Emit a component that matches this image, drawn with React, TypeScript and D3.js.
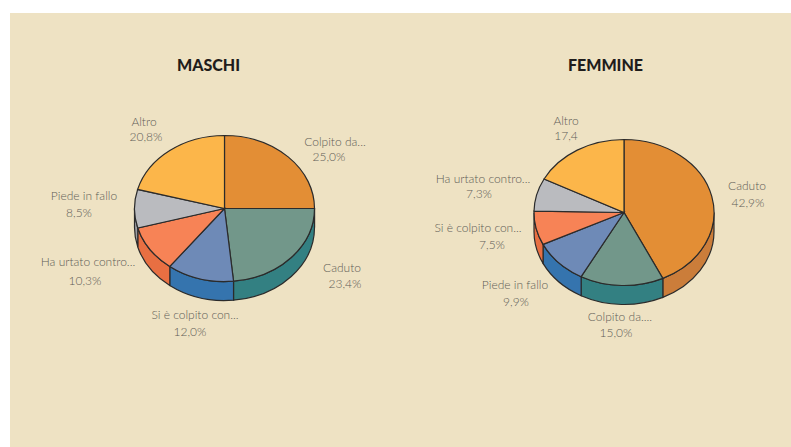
import * as d3 from "d3";

const width = 791;
const height = 447;

const maschiLabels = ["Colpito da...", "Caduto", "Si è colpito con...", "Ha urtato contro...", "Piede in fallo", "Altro"];
const maschiValues = [25.0, 23.4, 12.0, 10.3, 8.5, 20.8];
const maschiTexts = ["25,0%", "23,4%", "12,0%", "10,3%", "8,5%", "20,8%"];

const femmineLabels = ["Caduto", "Colpito da....", "Piede in fallo", "Si è colpito con...", "Ha urtato contro...", "Altro"];
const femmineValues = [42.9, 15.0, 9.9, 7.5, 7.3, 17.4];
const femmineTexts = ["42,9%", "15,0%", "9,9%", "7,5%", "7,3%", "17,4"];

const topColors = ["#e38e35", "#72978a", "#6e8ab7", "#f78356", "#babbbf", "#fcb64a"];
const sideColors = ["#cb7d3a", "#338082", "#3574ae", "#e86f42", "#9c9da3", "#e0a040"];

// where each label sits, [name x, name y, value x, value y]
const maschiPlaces = [
  [335, 146, 329, 160.5],
  [342, 272, 345, 288],
  [195, 319, 190, 336],
  [88, 266, 85, 285],
  [84, 200, 79, 217],
  [144, 126, 146, 141],
];
const femminePlaces = [
  [747, 190, 748, 207],
  [620, 321, 616, 337],
  [515, 289, 516, 306],
  [478, 232, 492, 249],
  [483, 183, 479, 198],
  [566, 125, 566, 140],
];

const rx = 90;
const ry = 73;
const depth = 19;

function Pie3D({ title, titleX, cx, cy, labels, values, texts, places }: any) {
  const arcs = d3.pie<number>().sort(null)(values);
  const arc = d3.arc<d3.PieArcDatum<number>>().innerRadius(0).outerRadius(rx);

  // the wall only shows on the front half of the ellipse
  const wall = (d: d3.PieArcDatum<number>) => {
    const a0 = Math.max(d.startAngle, Math.PI / 2);
    const a1 = Math.min(d.endAngle, (3 * Math.PI) / 2);
    if (a1 <= a0) return null;
    const px = (a: number) => rx * Math.sin(a);
    const py = (a: number) => -ry * Math.cos(a);
    return `M${px(a0)},${py(a0)}A${rx},${ry} 0 0 1 ${px(a1)},${py(a1)}L${px(a1)},${py(a1) + depth}A${rx},${ry} 0 0 0 ${px(a0)},${py(a0) + depth}Z`;
  };

  return (
    <g>
      <text x={titleX} y={71} textAnchor="middle" fontFamily="Lato, sans-serif" fontWeight={900} fontSize={16} fill="#1f1c1b">
        {title}
      </text>
      <g transform={`translate(${cx},${cy})`}>
        {arcs.map((d, i) => (
          <path key={i} d={wall(d) ?? ""} fill={sideColors[i]} stroke="#2b2b2b" strokeWidth={1.2} />
        ))}
        <g transform={`scale(1,${ry / rx})`}>
          {arcs.map((d, i) => (
            <path key={i} d={arc(d) ?? ""} fill={topColors[i]} stroke="#2b2b2b" strokeWidth={1.2} vectorEffect="non-scaling-stroke" />
          ))}
        </g>
      </g>
      <g fontFamily="Lato, sans-serif" fontWeight={300} fontSize={12} fill="#5f5d57" textAnchor="middle">
        {labels.map((l: string, i: number) => (
          <g key={l}>
            <text x={places[i][0]} y={places[i][1]}>{l}</text>
            <text x={places[i][2]} y={places[i][3]}>{texts[i]}</text>
          </g>
        ))}
      </g>
    </g>
  );
}

export default function App() {
  return (
    <svg width={width} height={height} style={{ position: "absolute", left: 0, top: 0 }}>
      <rect x={0} y={0} width={width} height={height} fill="#ffffff" />
      <rect x={10} y={13} width={width - 10} height={height - 13} fill="#eee2c3" />
      <Pie3D title="MASCHI" titleX={208.5} cx={224.5} cy={208.5} labels={maschiLabels} values={maschiValues} texts={maschiTexts} places={maschiPlaces} />
      <Pie3D title="FEMMINE" titleX={605.5} cx={624} cy={212.5} labels={femmineLabels} values={femmineValues} texts={femmineTexts} places={femminePlaces} />
    </svg>
  );
}
